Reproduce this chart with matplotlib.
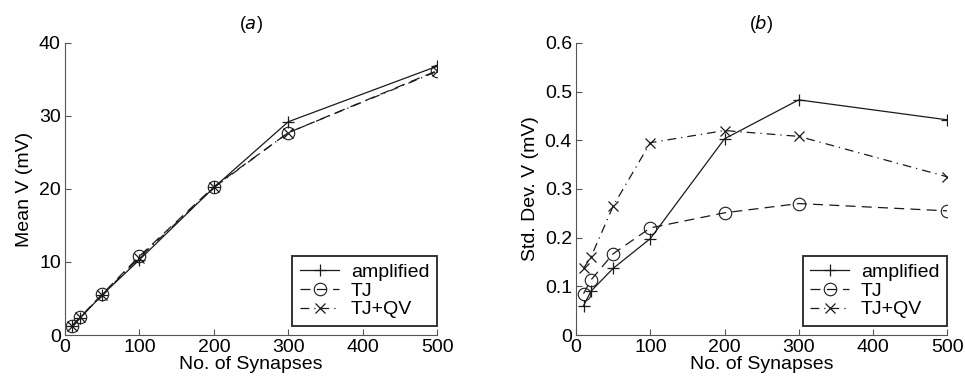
import matplotlib
matplotlib.use('Agg')
import matplotlib.pyplot as plt

plt.rcParams['font.family'] = ['Liberation Sans', 'DejaVu Sans']
plt.rcParams['font.size'] = 13

# data
synapses = [10, 20, 50, 100, 200, 300, 500]
mean_amp = [1.2, 2.3, 5.5, 10.3, 20.2, 29.2, 36.8]
mean_tj = [1.3, 2.4, 5.6, 10.8, 20.3, 27.7, 36.2]
mean_tjqv = [1.3, 2.4, 5.5, 10.6, 20.2, 27.7, 36.1]
std_amp = [0.060, 0.090, 0.137, 0.198, 0.403, 0.483, 0.442]
std_tj = [0.085, 0.113, 0.167, 0.220, 0.251, 0.270, 0.255]
std_tjqv = [0.137, 0.160, 0.265, 0.395, 0.420, 0.408, 0.325]
xticks = [0, 100, 200, 300, 400, 500]

lc = '#1a1a1a'
fig = plt.figure(figsize=(9.65, 3.9), dpi=100)
ax1 = fig.add_axes([0.0674, 0.141, 0.3855, 0.749])
ax2 = fig.add_axes([0.597, 0.141, 0.3845, 0.749])

def style(ax, a, b, c, ylim, yticks, ylabel, title):
    ax.plot(synapses, a, '-', marker='+', color=lc, lw=0.9, ms=8, mew=0.9, label='amplified')
    ax.plot(synapses, b, ls=(0, (8, 5)), marker='o', color=lc, lw=0.9, ms=9, mew=0.8,
            mfc='none', label='TJ')
    ax.plot(synapses, c, ls=(0, (7, 4, 1, 4)), marker='x', color=lc, lw=0.9, ms=6.5, mew=0.9,
            label='TJ+QV')
    ax.set_xlim(0, 500)
    ax.set_ylim(*ylim)
    ax.set_xticks(xticks)
    ax.set_yticks(yticks)
    ax.spines['top'].set_visible(False)
    ax.spines['right'].set_visible(False)
    for s in ('left', 'bottom'):
        ax.spines[s].set_color('#555555')
    ax.tick_params(direction='in', length=4, color='#555555', labelsize=14, pad=3)
    ax.set_xlabel('No. of Synapses', fontsize=14, labelpad=0)
    ax.set_ylabel(ylabel, fontsize=14, labelpad=4)
    ax.set_title(title, fontsize=13, pad=10)
    leg = ax.legend(loc='lower right', bbox_to_anchor=(1.0, 0.03), fontsize=14,
                    frameon=True, fancybox=False, edgecolor='black', handlelength=2.0,
                    borderpad=0.4, labelspacing=0.05, handletextpad=0.6, borderaxespad=0)
    leg.get_frame().set_linewidth(1.4)

style(ax1, mean_amp, mean_tj, mean_tjqv, (0, 40), [0, 10, 20, 30, 40], 'Mean V (mV)', '($a$)')
style(ax2, std_amp, std_tj, std_tjqv, (0, 0.6), [0, 0.1, 0.2, 0.3, 0.4, 0.5, 0.6],
      'Std. Dev. V (mV)', '($b$)')
ax2.set_yticklabels(['0', '0.1', '0.2', '0.3', '0.4', '0.5', '0.6'])

fig.savefig('out.png', dpi=100)
